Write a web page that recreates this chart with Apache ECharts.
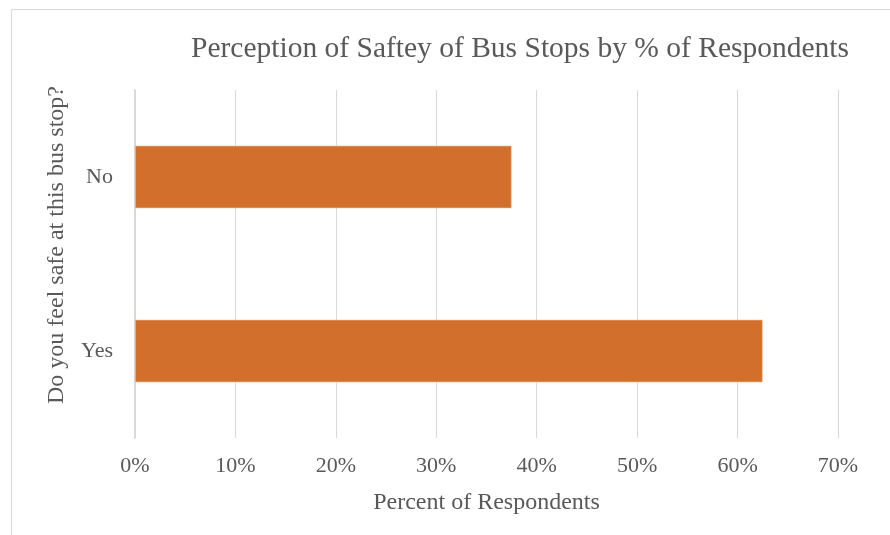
<!DOCTYPE html>
<html>
<head>
<meta charset="utf-8">
<style>
  html, body { margin: 0; padding: 0; background: #ffffff; }
  #chart { width: 890px; height: 535px; }
</style>
<script src="https://cdn.jsdelivr.net/npm/echarts@6/dist/echarts.min.js"></script>
</head>
<body>
<div id="chart"></div>
<script>
// Survey answers and share of respondents (percent)
const categories = ['Yes', 'No'];
const percentValues = [62.5, 37.5];
const tickValues = [0, 10, 20, 30, 40, 50, 60, 70];

const FONT = '"Liberation Serif", "Times New Roman", serif';
const TEXT = '#595959';

const chart = echarts.init(document.getElementById('chart'), null, { renderer: 'canvas' });

chart.setOption({
  backgroundColor: '#ffffff',
  animation: false,
  graphic: [{
    type: 'rect',
    shape: { x: 11.5, y: 9.5, width: 900, height: 600 },
    style: { fill: 'none', stroke: '#d9d9d9', lineWidth: 1 },
    silent: true
  }, {
    // vertical axis title, sitting slightly above the plot centre
    type: 'text',
    x: 57,
    y: 245,
    rotation: Math.PI / 2,
    style: {
      text: 'Do you feel safe at this bus stop?',
      fontFamily: FONT, fontSize: 24, fill: TEXT,
      align: 'center', verticalAlign: 'middle'
    },
    silent: true
  }],
  title: {
    text: 'Perception of Saftey of Bus Stops by % of Respondents',
    left: 515,
    textAlign: 'center',
    top: 29,
    textStyle: { fontFamily: FONT, fontSize: 29.5, fontWeight: 'normal', color: TEXT }
  },
  grid: { left: 135, right: 52, top: 90, bottom: 97, containLabel: false },
  xAxis: {
    type: 'value',
    min: tickValues[0],
    max: tickValues[tickValues.length - 1],
    interval: 10,
    name: 'Percent of Respondents',
    nameLocation: 'middle',
    nameGap: 53,
    nameTextStyle: { fontFamily: FONT, fontSize: 24, color: TEXT },
    axisLine: { show: false },
    axisTick: { show: false },
    axisLabel: {
      formatter: v => v + '%',
      margin: 17,
      fontFamily: FONT, fontSize: 22, color: TEXT
    },
    splitLine: { show: true, lineStyle: { color: '#d9d9d9', width: 1 } }
  },
  yAxis: {
    type: 'category',
    data: categories,
    axisLine: { show: true, lineStyle: { color: '#d9d9d9', width: 2 } },
    axisTick: { show: false },
    axisLabel: { margin: 22, fontFamily: FONT, fontSize: 22, color: TEXT },
    splitLine: { show: false }
  },
  series: [{
    type: 'bar',
    data: percentValues,
    barWidth: '36%',
    itemStyle: { color: '#d36f2c', borderColor: '#f2c7a8', borderWidth: 0.6 }
  }]
});
</script>
</body>
</html>
